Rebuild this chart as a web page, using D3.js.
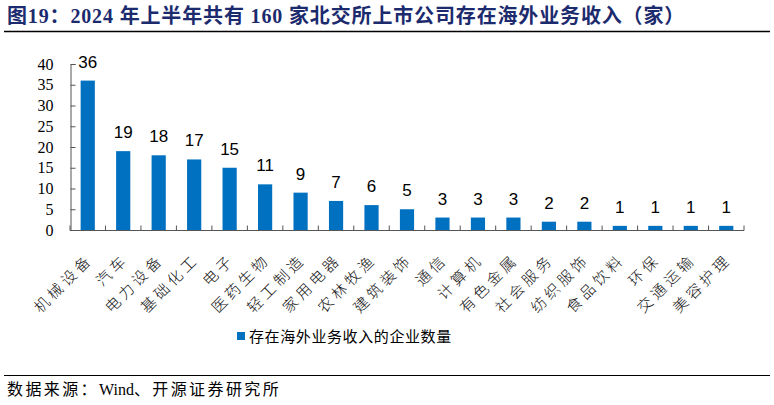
<!DOCTYPE html>
<html><head><meta charset="utf-8">
<script src="https://cdn.jsdelivr.net/npm/d3@7"></script>
<style>
body{margin:0;background:#fff;}
svg{display:block;}
</style></head>
<body>
<script>
const categories = ["机械设备","汽车","电力设备","基础化工","电子","医药生物","轻工制造","家用电器","农林牧渔","建筑装饰","通信","计算机","有色金属","社会服务","纺织服饰","食品饮料","环保","交通运输","美容护理"];
const values = [36,19,18,17,15,11,9,7,6,5,3,3,3,2,2,1,1,1,1];
const yTicks = [0,5,10,15,20,25,30,35,40];
const seriesName = "存在海外业务收入的企业数量";
const title = "图19：2024 年上半年共有 160 家北交所上市公司存在海外业务收入（家）";
const sourceParts = ["数据来源：", "Wind", "、开源证券研究所"];

const W = 774, H = 405;
const svg = d3.select("body").append("svg").attr("width", W).attr("height", H);
const serif = "'Liberation Serif','Times New Roman',serif";
const cjk = "'Liberation Serif','Noto Sans CJK SC',serif";

svg.append("text").attr("x", 7).attr("y", 23)
  .attr("font-family", "'Liberation Serif','Noto Sans CJK SC',serif")
  .attr("font-weight", "bold").attr("font-size", 20).attr("letter-spacing", 0.85).attr("fill", "#1c2a6e")
  .text(title);
svg.append("line").attr("x1", 4).attr("x2", 770).attr("y1", 31.5).attr("y2", 31.5)
  .attr("stroke", "#000").attr("stroke-width", 1.3);

const x = d3.scaleBand().domain(categories).range([70, 744]).paddingInner(0.6).paddingOuter(0.3);
const y = d3.scaleLinear().domain([0, 40]).range([230, 64]);

const g = svg.append("g");
g.selectAll("rect.bar").data(values).join("rect")
  .attr("x", (d, i) => x(categories[i]))
  .attr("y", d => y(d))
  .attr("width", x.bandwidth())
  .attr("height", d => y(0) - y(d))
  .attr("fill", "#0070c0");

g.selectAll("text.lbl").data(values).join("text")
  .attr("x", (d, i) => x(categories[i]) + x.bandwidth() / 2)
  .attr("y", d => y(d) - 13)
  .attr("text-anchor", "middle")
  .attr("font-family", "'Liberation Sans',Arial,sans-serif")
  .attr("font-size", 17).attr("fill", "#000")
  .text(d => d);

// y axis
const yAxis = d3.axisLeft(y).tickValues(yTicks).tickSize(-5).tickPadding(17);
const ya = svg.append("g").attr("transform", "translate(70.5,0)").call(yAxis);
ya.select(".domain").attr("stroke", "#555");
ya.selectAll(".tick line").attr("stroke", "#555");
ya.selectAll(".tick text").attr("font-family", serif).attr("font-size", 16).attr("fill", "#000");

// x axis
const xg = svg.append("g").attr("transform", "translate(0,230.5)");
xg.append("line").attr("x1", 70).attr("x2", 744).attr("stroke", "#555");
const bounds = d3.range(categories.length + 1).map(i => 70 + i * (674 / categories.length));
xg.selectAll("line.tk").data(bounds).join("line")
  .attr("x1", d => d).attr("x2", d => d).attr("y1", 0).attr("y2", -5).attr("stroke", "#555");
xg.selectAll("text.cat").data(categories).join("text")
  .attr("transform", d => `translate(${x(d) + x.bandwidth() / 2 + 6},${30}) rotate(-45)`)
  .attr("text-anchor", "end")
  .attr("font-family", cjk).attr("font-size", 15).attr("font-weight", 300).attr("letter-spacing", 3.8).attr("fill", "#111")
  .text(d => d);

// legend
svg.append("rect").attr("x", 237).attr("y", 332).attr("width", 8).attr("height", 8).attr("fill", "#0070c0");
svg.append("text").attr("x", 249).attr("y", 342).attr("font-family", cjk).attr("font-size", 15)
  .attr("letter-spacing", 0.6).attr("fill", "#000")
  .text(seriesName);

svg.append("line").attr("x1", 4).attr("x2", 770).attr("y1", 375.5).attr("y2", 375.5)
  .attr("stroke", "#000").attr("stroke-width", 1);
const src = svg.append("text").attr("x", 7).attr("y", 395).attr("font-family", "'Liberation Serif','Noto Sans CJK SC',serif")
  .attr("font-size", 16).attr("fill", "#000");
src.selectAll("tspan").data(sourceParts).join("tspan")
  .attr("letter-spacing", (d, i) => i === 1 ? 0 : 2.4)
  .text(d => d);
</script>
</body></html>
